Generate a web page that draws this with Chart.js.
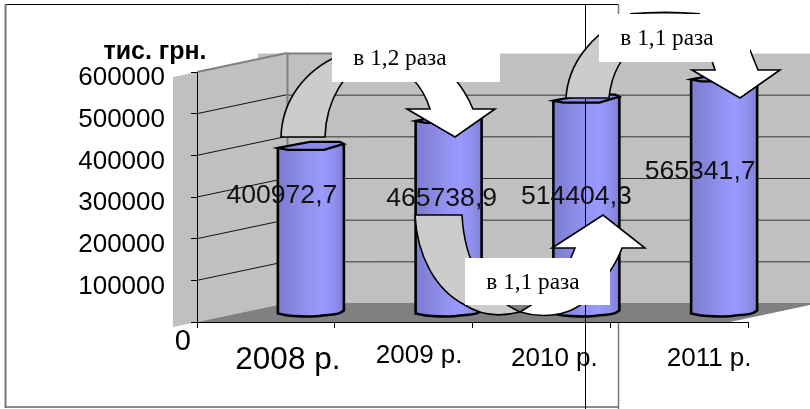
<!DOCTYPE html>
<html><head><meta charset="utf-8">
<style>html,body{margin:0;padding:0;background:#fff}canvas{display:block}</style>
<script src="https://cdn.jsdelivr.net/npm/chart.js@4"></script></head>
<body><canvas id="c" width="810" height="409"></canvas>
<script>
const categories = ['2008 р.', '2009 р.', '2010 р.', '2011 р.'];
const values = [400972.7, 465738.9, 514404.3, 565341.7];
const valueLabels = ['400972,7', '465738,9', '514404,3', '565341,7'];
const yTicks = [0, 100000, 200000, 300000, 400000, 500000, 600000];
const axisTitle = 'тис. грн.';
const ratioLabels = ['в 1,2 раза', 'в 1,1 раза', 'в 1,1 раза'];

const SANS = '"Liberation Sans", Arial, sans-serif';
const SERIF = '"Liberation Serif", "Times New Roman", serif';
const DEPTH_X = 90, DEPTH_Y = 19;

function poly(ctx, pts, fill, stroke, lw) {
  ctx.beginPath(); ctx.moveTo(pts[0][0], pts[0][1]);
  for (let i = 1; i < pts.length; i++) ctx.lineTo(pts[i][0], pts[i][1]);
  ctx.closePath();
  if (fill) { ctx.fillStyle = fill; ctx.fill(); }
  if (stroke) { ctx.strokeStyle = stroke; ctx.lineWidth = lw || 1; ctx.stroke(); }
}
function line(ctx, x1, y1, x2, y2, color, lw) {
  ctx.beginPath(); ctx.moveTo(x1, y1); ctx.lineTo(x2, y2);
  ctx.strokeStyle = color; ctx.lineWidth = lw || 1; ctx.stroke();
}
function text(ctx, s, x, y, font, align, color) {
  ctx.font = font; ctx.textAlign = align; ctx.textBaseline = 'middle';
  ctx.fillStyle = color || '#000'; ctx.fillText(s, x, y);
}

const backdrop = {
  id: 'backdrop',
  beforeDraw(chart) {
    const { ctx, chartArea: a, scales: { y } } = chart;
    ctx.save();
    line(ctx, 5, 4.5, 618, 4.5, '#000', 1);
    line(ctx, 5.5, 4, 5.5, 408, '#777', 2);
    line(ctx, 5, 407, 618, 407, '#666', 1.5);
    line(ctx, 618.5, 4, 618.5, 409, '#777', 1.5);
    const bx = a.left + DEPTH_X, ty = y.getPixelForValue(600000) - DEPTH_Y + .5, by = a.bottom - DEPTH_Y;
    poly(ctx, [[bx, ty], [810, ty], [810, by], [bx, by]], '#c0c0c0');
    poly(ctx, [[173, 77], [a.left, a.top], [258, 60], [258, ty], [bx, ty], [bx, by], [a.left, a.bottom], [173, 327]], '#c0c0c0');
    poly(ctx, [[a.left, a.bottom], [bx, by], [810, by], [810, by + 2], [730, a.bottom]], '#808080');
    for (const v of yTicks) {
      if (v === 0) continue;
      const p = y.getPixelForValue(v);
      if (v === 600000) { line(ctx, a.left, p, bx, p - DEPTH_Y, '#808080', 2); line(ctx, bx, ty, 332, ty, '#808080', 2); continue; }
      line(ctx, a.left, p, bx, p - DEPTH_Y, '#111', 1);
      line(ctx, bx, p - DEPTH_Y + .5, 810, p - DEPTH_Y + .5, '#333', 1);
    }
    line(ctx, bx + .5, ty, bx + .5, by, '#808080', 2);
    ctx.restore();
  }
};

const barShift = {
  id: 'barShift',
  beforeDatasetDraw(chart) { chart.ctx.save(); chart.ctx.translate(DEPTH_X / 2, -6); },
  afterDatasetDraw(chart, args) {
    const ctx = chart.ctx;
    args.meta.data.forEach(b => {
      const l = b.x - b.width / 2, r = b.x + b.width / 2, t = b.y, bs = b.base;
      ctx.save();
      const g = ctx.createLinearGradient(l, 0, r, 0);
      g.addColorStop(0, '#7c7cd2'); g.addColorStop(.2, '#8585dc');
      g.addColorStop(.5, '#9494f4'); g.addColorStop(.68, '#9999ff');
      g.addColorStop(.85, '#9090ee'); g.addColorStop(1, '#7f7fd4');
      ctx.beginPath();
      ctx.moveTo(l, t - 1); ctx.lineTo(l, bs - 2);
      ctx.bezierCurveTo(l + 12, bs + 1.5, r - 30, bs + 1.5, r - 22, bs);
      ctx.bezierCurveTo(r - 12, bs - 1, r - 6, bs, r, bs - 5);
      ctx.lineTo(r, t - 5);
      ctx.fillStyle = g; ctx.fill();
      ctx.lineWidth = 2.6; ctx.strokeStyle = '#000'; ctx.stroke();
      ctx.beginPath();
      ctx.moveTo(l, t - 1);
      ctx.lineTo(l + 32, t - 7); ctx.lineTo(r - 4, t - 7); ctx.lineTo(r, t - 5);
      ctx.lineTo(r - 20, t + 1); ctx.lineTo(l + 10, t + 1);
      ctx.closePath();
      ctx.fillStyle = '#8a8ae8'; ctx.fill();
      ctx.lineWidth = 2.2; ctx.stroke();
      ctx.restore();
    });
    ctx.restore();
  }
};

function arrow1(ctx) {
  ctx.lineWidth = 1.6; ctx.strokeStyle = '#000'; ctx.lineJoin = 'miter';
  ctx.beginPath();
  ctx.moveTo(281, 137); ctx.bezierCurveTo(282, 100, 305, 70, 340, 55);
  ctx.lineTo(370, 60); ctx.bezierCurveTo(345, 70, 326, 100, 325, 137); ctx.closePath();
  ctx.fillStyle = '#cccccc'; ctx.fill(); ctx.stroke();
  ctx.beginPath();
  ctx.moveTo(412, 78); ctx.quadraticCurveTo(425, 92, 430, 109); ctx.lineTo(407, 109);
  ctx.lineTo(455, 137); ctx.lineTo(495, 109); ctx.lineTo(473, 109);
  ctx.quadraticCurveTo(466, 92, 454, 78); ctx.closePath();
  ctx.fillStyle = '#fff'; ctx.fill(); ctx.stroke();
}
function arrow2(ctx) {
  ctx.lineWidth = 1.6; ctx.strokeStyle = '#000';
  ctx.beginPath();
  ctx.moveTo(520, 312);
  ctx.bezierCurveTo(540, 318, 572, 318, 590, 296);
  ctx.bezierCurveTo(605, 280, 616, 265, 622, 248); ctx.lineTo(645, 248);
  ctx.lineTo(603, 215); ctx.lineTo(552, 248); ctx.lineTo(575, 248);
  ctx.bezierCurveTo(565, 275, 550, 295, 520, 312); ctx.closePath();
  ctx.fillStyle = '#fff'; ctx.fill(); ctx.stroke();
  ctx.beginPath();
  ctx.moveTo(415, 215); ctx.lineTo(462, 215);
  ctx.bezierCurveTo(465, 270, 490, 298, 520, 312);
  ctx.bezierCurveTo(500, 317, 480, 315, 465, 305);
  ctx.bezierCurveTo(435, 290, 417, 255, 415, 215); ctx.closePath();
  ctx.fillStyle = '#cccccc'; ctx.fill(); ctx.stroke();
}
function arrow3(ctx) {
  ctx.lineWidth = 1.6; ctx.strokeStyle = '#000';
  ctx.beginPath();
  ctx.moveTo(566, 98); ctx.bezierCurveTo(568, 65, 590, 35, 625, 18);
  ctx.lineTo(640, 40); ctx.bezierCurveTo(622, 55, 611, 75, 609, 98); ctx.closePath();
  ctx.fillStyle = '#cccccc'; ctx.fill(); ctx.stroke();
  ctx.beginPath(); ctx.moveTo(630, 14); ctx.quadraticCurveTo(665, 11, 700, 14);
  ctx.lineWidth = 1.8; ctx.stroke();
  ctx.lineWidth = 1.6;
  ctx.beginPath();
  ctx.moveTo(710, 55); ctx.lineTo(715, 70); ctx.lineTo(692, 70);
  ctx.lineTo(740, 98); ctx.lineTo(780, 70); ctx.lineTo(758, 70);
  ctx.lineTo(750, 50); ctx.closePath();
  ctx.fillStyle = '#fff'; ctx.fill(); ctx.stroke();
}
function box(ctx, x1, y1, x2, y2) { ctx.fillStyle = '#fff'; ctx.fillRect(x1, y1, x2 - x1, y2 - y1); }

const overlay = {
  id: 'overlay',
  afterDatasetsDraw(chart) {
    const { ctx, scales: { x, y } } = chart;
    ctx.save();
    line(ctx, 585.5, 4, 585.5, 409, '#000', 1);

    yTicks.forEach(v => {
      const p = y.getPixelForValue(v);
      if (v === 0) text(ctx, String(v), 191, p + 20, '29px ' + SANS, 'right');
      else text(ctx, String(v), 165, p + 6, '26px ' + SANS, 'right');
    });
    text(ctx, axisTitle, 155, 52, 'bold 25px ' + SANS, 'center');

    const catFont = [31.5, 26, 26, 26];
    const catDx = [22, 15.5, 13, 30], catY = [360, 356, 359, 359];
    categories.forEach((c, i) => {
      text(ctx, c, x.getPixelForValue(i) + catDx[i], catY[i], catFont[i] + 'px ' + SANS, 'center');
    });

    const dx = [16, 38, 35, 21], dy = [196, 199, 197, 172];
    valueLabels.forEach((s, i) => {
      text(ctx, s, x.getPixelForValue(i) + dx[i], dy[i], '26.6px ' + SANS, 'center', '#111');
    });

    arrow1(ctx); arrow2(ctx); arrow3(ctx);
    box(ctx, 332, 41, 500, 82); box(ctx, 465, 258, 610, 305); box(ctx, 599, 14, 750, 62);
    text(ctx, ratioLabels[0], 400, 59, '23.3px ' + SERIF, 'center');
    text(ctx, ratioLabels[1], 533, 283, '23.3px ' + SERIF, 'center');
    text(ctx, ratioLabels[2], 667, 39, '23.3px ' + SERIF, 'center');
    ctx.restore();
  }
};

new Chart(document.getElementById('c'), {
  type: 'bar',
  data: {
    labels: categories,
    datasets: [{
      data: values, barThickness: 66, borderWidth: 0, backgroundColor: '#9999ff',
      borderSkipped: false, borderRadius: { topLeft: 0, topRight: 0, bottomLeft: 3, bottomRight: 8 }
    }]
  },
  options: {
    responsive: false,
    animation: false,
    layout: { padding: { left: 191, right: 62, top: 72, bottom: 81 } },
    plugins: { legend: { display: false }, tooltip: { enabled: false } },
    scales: {
      x: {
        afterFit(s) { s.height = 6; },
        ticks: { display: false },
        border: { color: '#000' },
        grid: { drawOnChartArea: false, tickLength: 6, color: '#000' }
      },
      y: {
        min: 0, max: 600000,
        afterFit(s) { s.width = 6; },
        ticks: { display: false, stepSize: 100000 },
        border: { color: '#000' },
        grid: { drawOnChartArea: false, tickLength: 6, color: '#000' }
      }
    }
  },
  plugins: [backdrop, barShift, overlay]
});
</script></body></html>
